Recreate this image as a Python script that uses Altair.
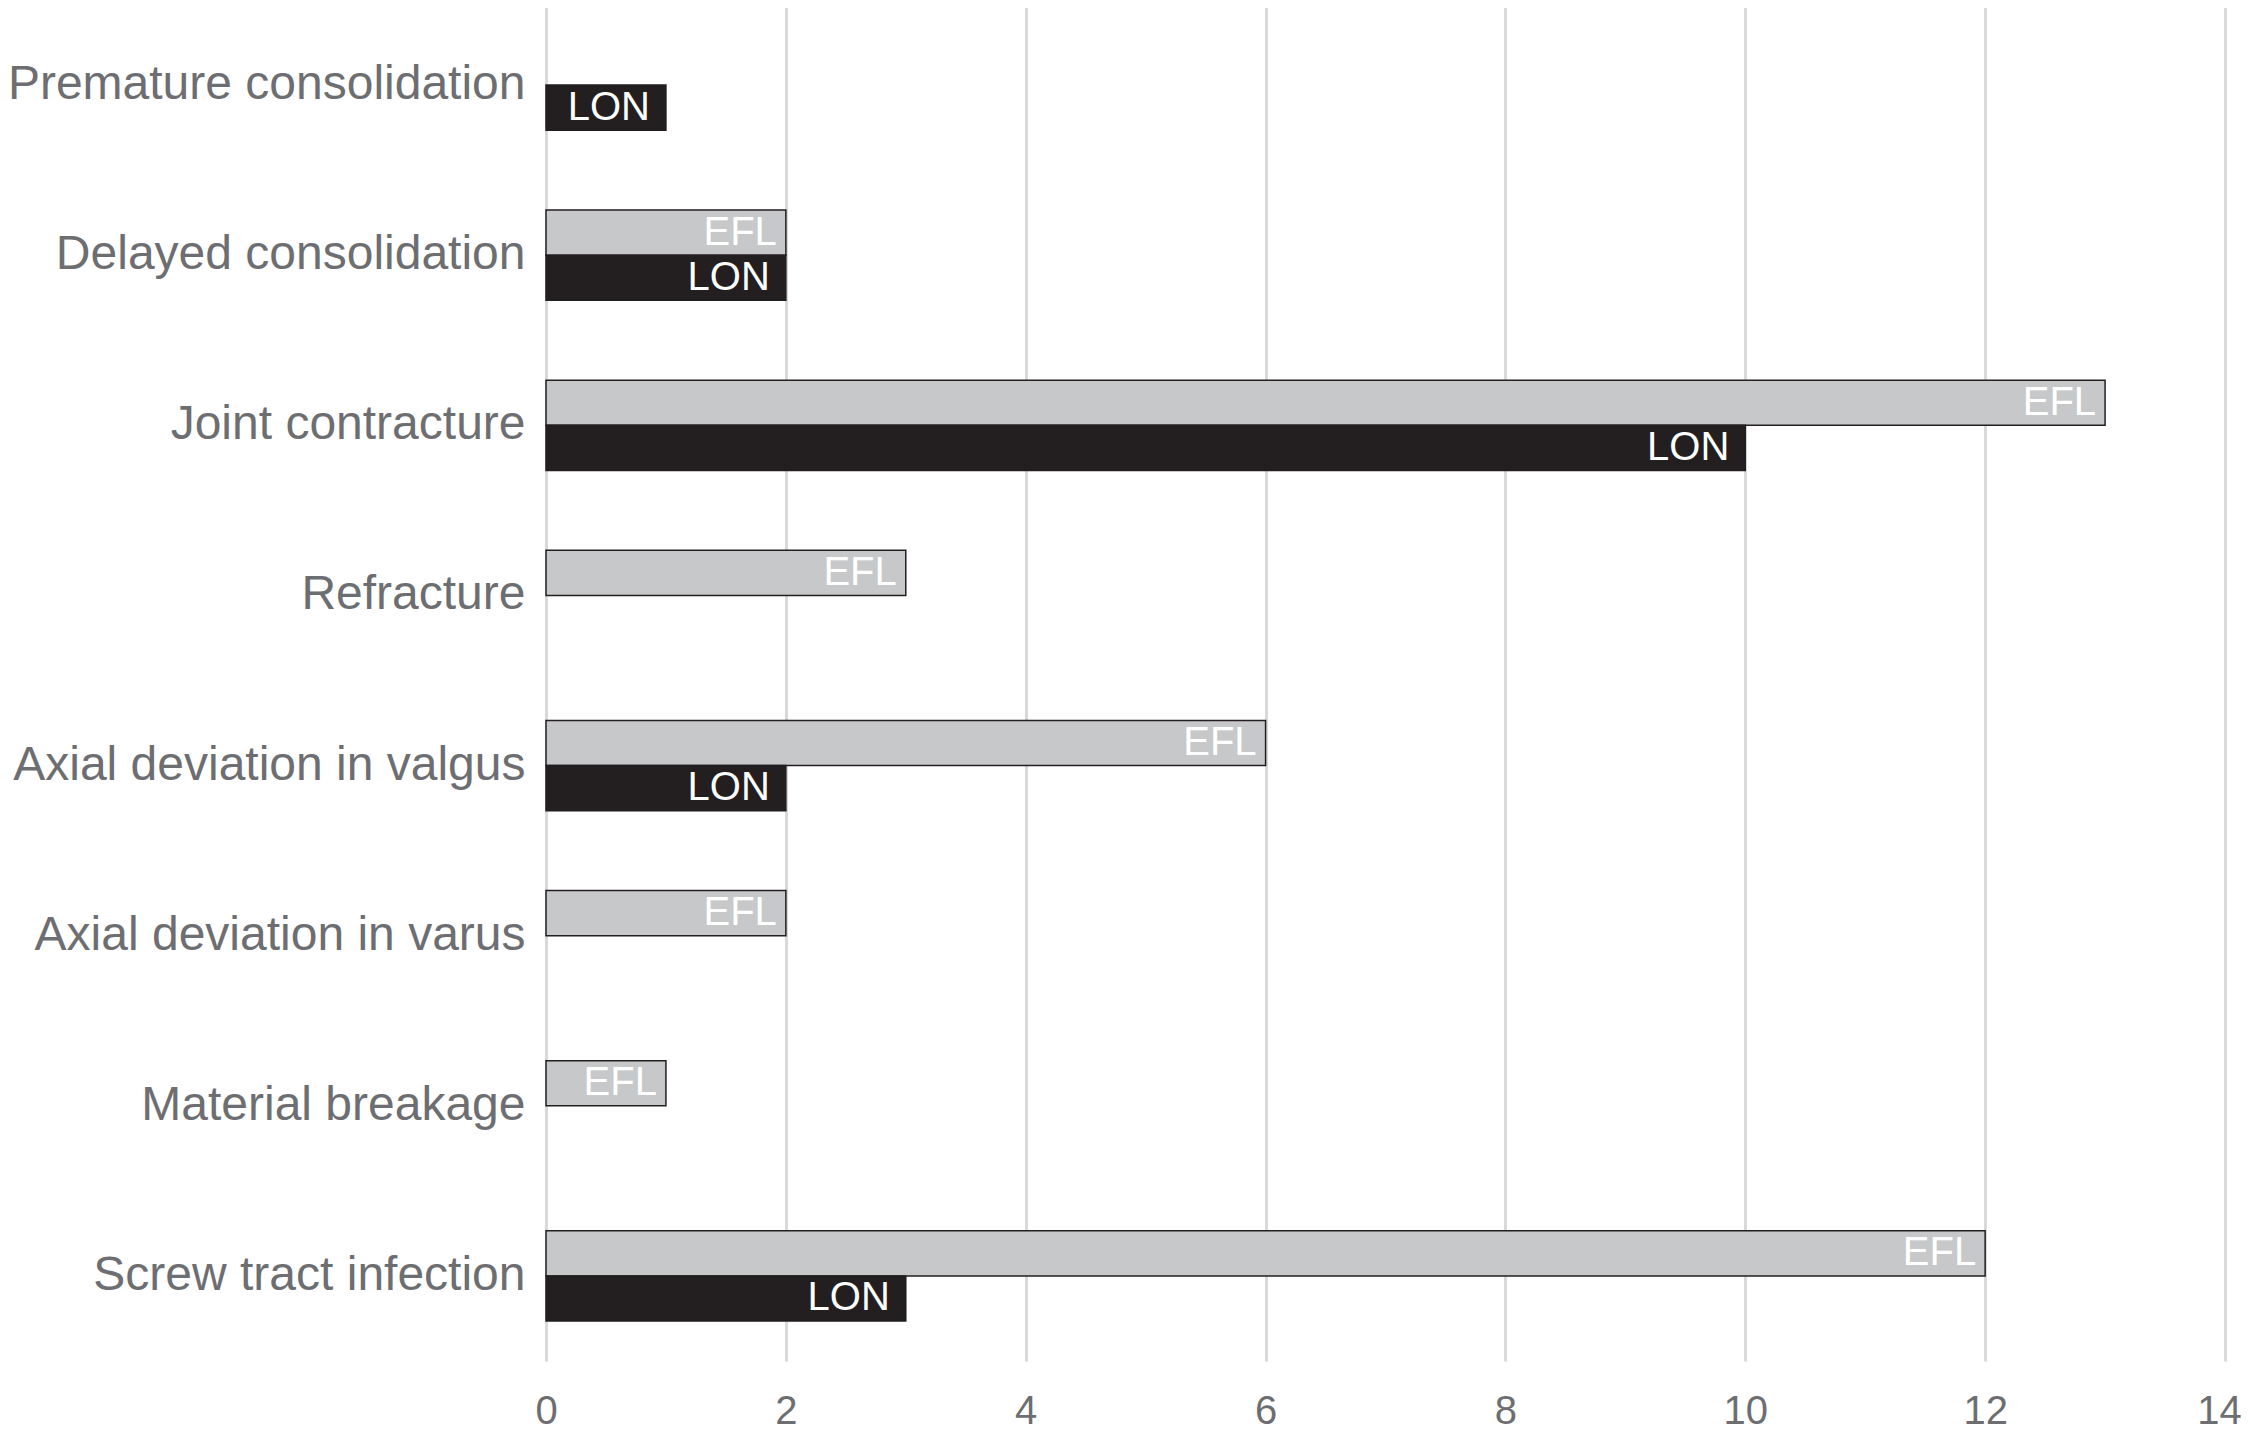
import altair as alt
import pandas as pd

categories = [
    "Premature consolidation",
    "Delayed consolidation",
    "Joint contracture",
    "Refracture",
    "Axial deviation in valgus",
    "Axial deviation in varus",
    "Material breakage",
    "Screw tract infection",
]
efl_values = [0, 2, 13, 3, 6, 2, 1, 12]
lon_values = [1, 2, 10, 0, 2, 0, 0, 3]
series = ["EFL", "LON"]
x_ticks = [0, 2, 4, 6, 8, 10, 12, 14]
padded_labels = ["Delayed consolidation", "Axial deviation in varus"]

rows = []
for c, e, l in zip(categories, efl_values, lon_values):
    if e:
        rows.append({"category": c, "series": "EFL", "value": e})
    if l:
        rows.append({"category": c, "series": "LON", "value": l})
df = pd.DataFrame(rows)

FONT = "Liberation Sans"
GRAY = "#6d6e71"

label_expr = "indexof([" + ",".join("'" + p + "'" for p in padded_labels) + \
    "], datum.value) >= 0 ? datum.value + '\u00a0' : datum.value"

y_enc = alt.Y(
    "category:N",
    sort=categories,
    scale=alt.Scale(domain=categories, paddingInner=0.47, paddingOuter=0.235),
    axis=alt.Axis(
        title=None, ticks=False, tickSize=0, domain=False, grid=False,
        labelFont=FONT, labelFontSize=48, labelColor=GRAY,
        labelPadding=21, labelLimit=0, labelExpr=label_expr,
    ),
)
yoff_enc = alt.YOffset(
    "series:N", scale=alt.Scale(domain=series, paddingInner=0, paddingOuter=0)
)
x_enc = alt.X(
    "value:Q",
    scale=alt.Scale(domain=[0, 14], nice=False, zero=True),
    axis=alt.Axis(
        title=None, values=x_ticks, grid=True, gridColor="#d9d9d9", gridWidth=3,
        domain=False, ticks=False, tickSize=0, labelFlush=False,
        labelOffset={"condition": {"test": "datum.value == 14", "value": -6}, "value": 0},
        labelFont=FONT, labelFontSize=40, labelColor=GRAY, labelPadding=30,
    ),
)

base = alt.Chart(df)

bars = base.mark_bar(strokeWidth=1.5).encode(
    y=y_enc,
    yOffset=yoff_enc,
    x=x_enc,
    color=alt.Color("series:N", scale=alt.Scale(domain=series, range=["#c7c8ca", "#231f20"]), legend=None),
    stroke=alt.Stroke("series:N", scale=alt.Scale(domain=series, range=["#231f20", "#231f20"]), legend=None),
)

efl_text = base.transform_filter(alt.datum.series == "EFL").mark_text(
    align="right", baseline="middle", dx=-9, color="white", font=FONT, fontSize=40
).encode(y=y_enc, yOffset=yoff_enc, x=x_enc, text="series:N")

lon_text = base.transform_filter(alt.datum.series == "LON").mark_text(
    align="right", baseline="middle", dx=-16, color="white", font=FONT, fontSize=40
).encode(y=y_enc, yOffset=yoff_enc, x=x_enc, text="series:N")

chart = (
    alt.layer(bars, efl_text, lon_text)
    .properties(
        width=1679,
        height=1361,
        autosize=alt.AutoSizeParams(type="none"),
        padding={"left": 538, "top": -8, "right": 17, "bottom": 74},
        background="white",
    )
    .configure_view(stroke=None)
)

chart.save("out.html", embed_options={"renderer": "svg", "actions": False})
